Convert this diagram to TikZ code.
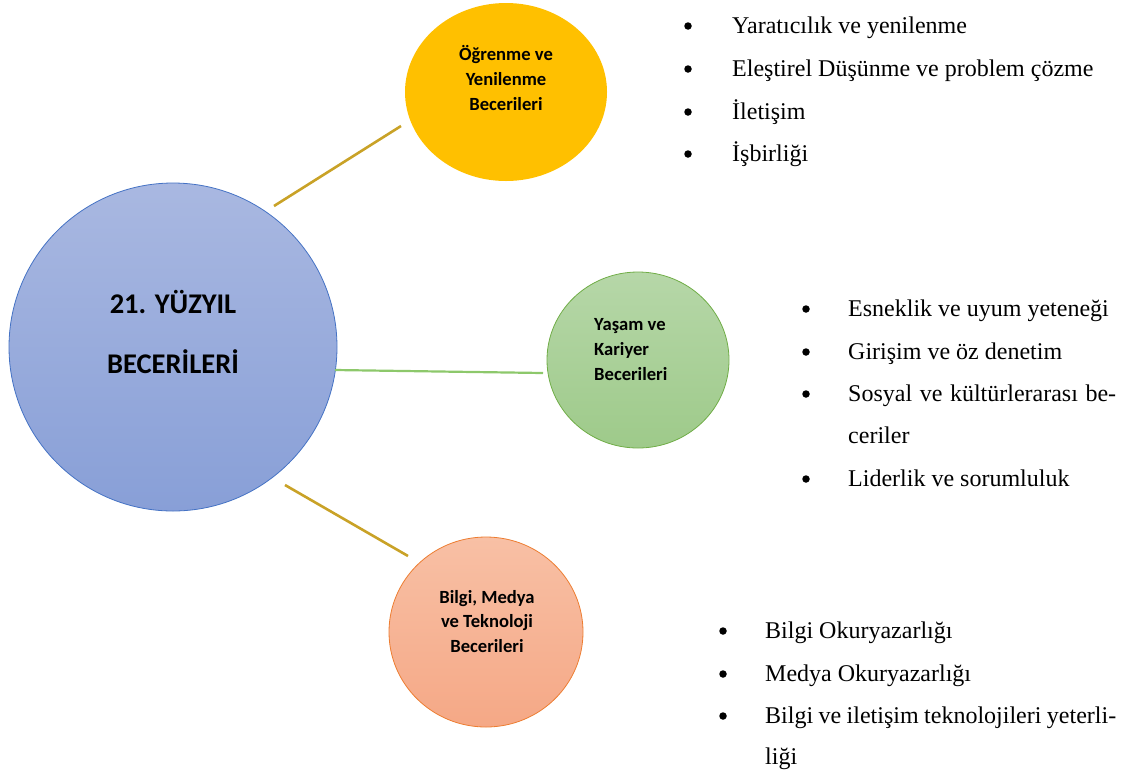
\documentclass[tikz,border=0pt]{standalone}
\usepackage{fontspec}
\setmainfont{Liberation Serif}
\newfontfamily\labelfont{Carlito}
\usetikzlibrary{shapes.geometric}
\begin{document}
\begin{tikzpicture}[x=1pt,y=-1pt,
  hub/.style={ellipse,line width=0.8pt,top color=hubtop,bottom color=hubbot,inner sep=0pt},
  topic/.style={ellipse,inner sep=0pt,line width=0.8pt},
  bigtxt/.style={anchor=base,inner sep=0pt,font=\labelfont\bfseries\fontsize{28.5}{28.5}\selectfont},
  smalltxt/.style={inner sep=0pt,font=\labelfont\bfseries\fontsize{18.6}{18.6}\selectfont},
  itemtxt/.style={anchor=base west,inner sep=0pt,font=\fontsize{24}{24}\selectfont},
  dot/.style={circle,fill=black,inner sep=0pt,minimum size=7.5pt},
  goldline/.style={draw=linkgold,line width=2.6pt},
  greenline/.style={draw=linkgreen,line width=2.2pt}
]
\definecolor{hubtop}{HTML}{A9B8E1}
\definecolor{hubbot}{HTML}{889FD7}
\definecolor{hubedge}{HTML}{4472C4}
\definecolor{yel}{HTML}{FFC000}
\definecolor{grtop}{HTML}{B6D7A8}
\definecolor{grbot}{HTML}{9ECA8A}
\definecolor{gredge}{HTML}{70AD47}
\definecolor{ortop}{HTML}{F8C0A5}
\definecolor{orbot}{HTML}{F5A886}
\definecolor{oredge}{HTML}{ED7D31}
\definecolor{linkgold}{HTML}{C9A227}
\definecolor{linkgreen}{HTML}{8DC86B}

\useasboundingbox (0,0) rectangle (1126,780);

% circles
\node[hub,draw=hubedge,minimum width=328pt,minimum height=328pt] (hubc) at (173,347) {};
\node[topic,fill=yel,minimum width=202pt,minimum height=178pt] (learn) at (506,92) {};
\node[topic,draw=gredge,top color=grtop,bottom color=grbot,minimum width=182pt,minimum height=176pt] (life) at (638,360) {};
\node[topic,draw=oredge,top color=ortop,bottom color=orbot,minimum width=194pt,minimum height=190pt] (info) at (486,632) {};

% circle labels
\node[bigtxt] (hubA) at (173,313) {21. YÜZYIL};
\node[bigtxt] (hubB) at (173,373) {BECERİLERİ};

\node[smalltxt,anchor=base] (lrA) at (506,60) {Öğrenme ve};
\node[smalltxt,anchor=base] (lrB) at (506,85) {Yenilenme};
\node[smalltxt,anchor=base] (lrC) at (506,110) {Becerileri};

\node[smalltxt,anchor=base west] (lfA) at (594,330) {Yaşam ve};
\node[smalltxt,anchor=base west] (lfB) at (594,355) {Kariyer};
\node[smalltxt,anchor=base west] (lfC) at (594,380) {Becerileri};

\node[smalltxt,anchor=base] (ifA) at (487,603) {Bilgi, Medya};
\node[smalltxt,anchor=base] (ifB) at (487,627) {ve Teknoloji};
\node[smalltxt,anchor=base] (ifC) at (487,652) {Becerileri};

% connectors
\coordinate (l1a) at (274,206);
\coordinate (l1b) at (401,126);
\coordinate (l2a) at (335,370);
\coordinate (l2b) at (543,373);
\coordinate (l3a) at (285,485);
\coordinate (l3b) at (408,556);
\draw[goldline] (l1a) -- (l1b);
\draw[greenline] (l2a) -- (l2b);
\draw[goldline] (l3a) -- (l3b);

% list: learning and innovation
\node[dot] (d11) at (688,26) {};
\node[itemtxt] (t11) at (732,33) {Yaratıcılık ve yenilenme};
\node[dot] (d12) at (688,69) {};
\node[itemtxt] (t12) at (732,76) {Eleştirel Düşünme ve problem çözme};
\node[dot] (d13) at (688,112) {};
\node[itemtxt] (t13) at (732,119) {İletişim};
\node[dot] (d14) at (688,154) {};
\node[itemtxt] (t14) at (732,161) {İşbirliği};

% list: life and career
\node[dot] (d21) at (806,309) {};
\node[itemtxt] (t21) at (848,316) {Esneklik ve uyum yeteneği};
\node[dot] (d22) at (806,352) {};
\node[itemtxt] (t22) at (848,359) {Girişim ve öz denetim};
\node[dot] (d23) at (806,394) {};
\node[itemtxt] (t23) at (848,401) {\makebox[268pt][s]{Sosyal ve kültürlerarası be-}};
\node[itemtxt] (t23b) at (848,443) {ceriler};
\node[dot] (d24) at (806,479) {};
\node[itemtxt] (t24) at (848,486) {Liderlik ve sorumluluk};

% list: information, media and technology
\node[dot] (d31) at (723,631) {};
\node[itemtxt] (t31) at (765,638) {Bilgi Okuryazarlığı};
\node[dot] (d32) at (723,674) {};
\node[itemtxt] (t32) at (765,681) {Medya Okuryazarlığı};
\node[dot] (d33) at (723,716) {};
\node[itemtxt] (t33) at (765,723) {\makebox[351pt][s]{Bilgi ve iletişim teknolojileri yeterli-}};
\node[itemtxt] (t33b) at (765,764) {liği};
\end{tikzpicture}
\end{document}
